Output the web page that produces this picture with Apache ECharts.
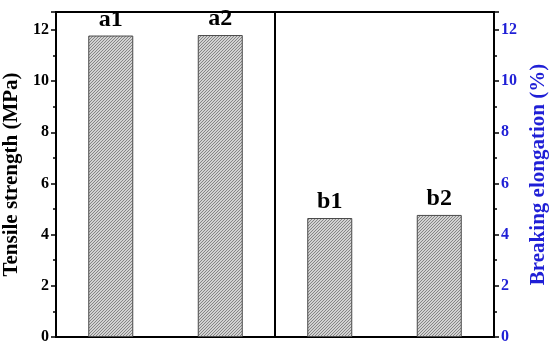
<!DOCTYPE html>
<html>
<head>
<meta charset="utf-8">
<script src="https://cdn.jsdelivr.net/npm/echarts@6/dist/echarts.min.js"></script>
<style>
  html, body { margin: 0; padding: 0; background: #fff; }
  #chart { width: 550px; height: 347px; }
</style>
</head>
<body>
<div id="chart"></div>
<script>
// sample labels and measured values
const samples = ['a1', 'a2', 'b1', 'b2'];
const tensile = [11.78, 11.8, null, null];     // MPa, left axis
const elongation = [null, null, 4.65, 4.77];   // %, right axis
const dividerAt = [2];                         // boundary between the a and b groups

const font = '"Liberation Serif", "Times New Roman", serif';
const blue = '#1f1fd6';

// fine diagonal hatch for the bars
const makeHatch = () => {
    const c = document.createElement('canvas');
    c.width = 3; c.height = 3;
    const ctx = c.getContext('2d');
    ctx.fillStyle = '#d2d2d2';
    ctx.fillRect(0, 0, 3, 3);
    ctx.fillStyle = '#858585';
    // one pixel per row, shifted -> "/" direction
    ctx.fillRect(2, 0, 1, 1);
    ctx.fillRect(1, 1, 1, 1);
    ctx.fillRect(0, 2, 1, 1);
    return c;
};
const hatch = { image: makeHatch(), repeat: 'repeat' };

const chart = echarts.init(document.getElementById('chart'));

const yAxisBase = (color) => ({
    type: 'value',
    min: 0,
    max: 12.7,
    interval: 2,
    nameLocation: 'middle',
    axisLine: { show: true, lineStyle: { color: '#000', width: 2 } },
    axisTick: { show: true, inside: false, length: 5, lineStyle: { color: '#000', width: 1.5 } },
    minorTick: { show: true, splitNumber: 2, length: 3, lineStyle: { color: '#000', width: 1.5 } },
    splitLine: { show: false },
    axisLabel: { showMaxLabel: false, color: color, fontFamily: font, fontWeight: 'bold', fontSize: 16, margin: 7 },
    nameTextStyle: { color: color, fontFamily: font, fontWeight: 'bold', fontSize: 21 }
});

const barLabel = {
    show: true,
    position: 'top',
    distance: 4,
    formatter: (p) => samples[p.dataIndex],
    color: '#000',
    fontFamily: font,
    fontWeight: 'bold',
    fontSize: 24
};

chart.setOption({
    animation: false,
    backgroundColor: '#fff',
    grid: {
        left: 56, right: 56, top: 12, bottom: 10,
        outerBoundsMode: 'none',
        containLabel: false,
        show: true, borderColor: '#000', borderWidth: 2
    },
    xAxis: [
        {
            type: 'category',
            data: samples,
            axisLine: { show: true, lineStyle: { color: '#000', width: 2 } },
            axisTick: { show: false },
            axisLabel: { show: false },
            splitLine: { show: false }
        },
        {
            // hidden helper axis for the group divider
            type: 'value',
            min: 0,
            max: samples.length,
            show: false
        }
    ],
    yAxis: [
        Object.assign(yAxisBase('#000'), { name: 'Tensile strength (MPa)', nameGap: 29, position: 'left' }),
        Object.assign(yAxisBase(blue), { name: 'Breaking elongation (%)', nameGap: 29, position: 'right' })
    ],
    series: [
        {
            type: 'bar',
            yAxisIndex: 0,
            data: tensile,
            barWidth: 45,
            barGap: '-100%',
            itemStyle: { color: hatch, borderColor: '#4a4a4a', borderWidth: 1 },
            label: barLabel
        },
        {
            type: 'bar',
            yAxisIndex: 1,
            data: elongation,
            barWidth: 45,
            itemStyle: { color: hatch, borderColor: '#4a4a4a', borderWidth: 1 },
            label: barLabel
        },
        {
            type: 'line',
            xAxisIndex: 1,
            data: [],
            silent: true,
            markLine: {
                symbol: 'none',
                label: { show: false },
                lineStyle: { color: '#000', width: 2, type: 'solid' },
                data: dividerAt.map(v => ({ xAxis: v }))
            }
        }
    ]
});
</script>
</body>
</html>
